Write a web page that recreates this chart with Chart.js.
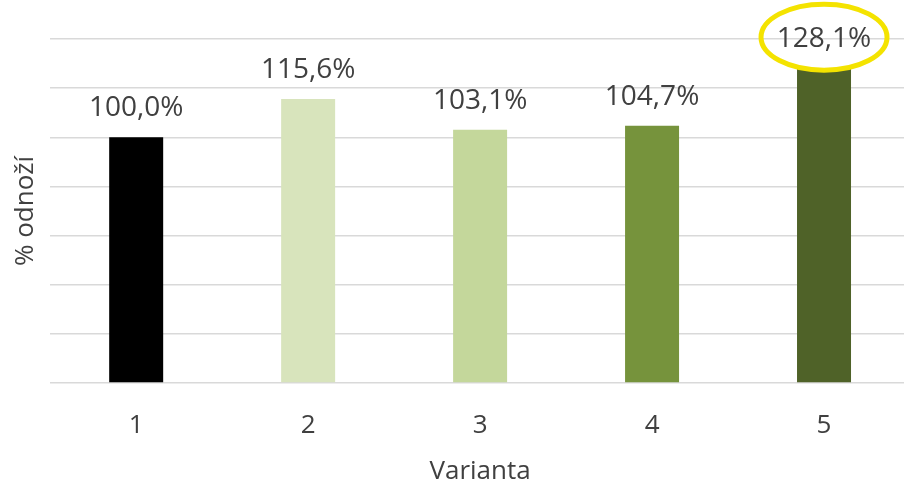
<!DOCTYPE html>
<html>
<head>
<meta charset="utf-8">
<script src="https://cdn.jsdelivr.net/npm/chart.js@4.4.1/dist/chart.umd.min.js"></script>
<style>
  html, body { margin: 0; padding: 0; background: #ffffff; overflow: hidden; }
  #wrap { position: relative; width: 911px; height: 485px; }
</style>
</head>
<body>
<div id="wrap"><canvas id="chart"></canvas></div>
<script>
// Varianty a relativní počet odnoží (v %)
const categories = ['1', '2', '3', '4', '5'];
const values = [100.0, 115.6, 103.1, 104.7, 128.1];
const barColors = ['#000000', '#d8e4bc', '#c4d79b', '#76933c', '#4f6228'];
const highlightIndex = 4;

const textColor = '#404040';
const fontFamily = '"Open Sans", "Noto Sans", sans-serif';

const fmt = v => v.toFixed(1).replace('.', ',') + '%';

// Popisky hodnot nad sloupci + zvýraznění nejvyšší varianty elipsou
const valueLabels = {
  id: 'valueLabels',
  afterDatasetsDraw(chart) {
    const ctx = chart.ctx;
    const meta = chart.getDatasetMeta(0);
    ctx.save();
    ctx.font = '28px ' + fontFamily;
    ctx.fillStyle = textColor;
    ctx.textAlign = 'center';
    ctx.textBaseline = 'alphabetic';
    meta.data.forEach((bar, i) => {
      const cy = bar.y - 31;
      ctx.fillText(fmt(values[i]), bar.x, cy + 10);
      if (i === highlightIndex) {
        ctx.beginPath();
        ctx.ellipse(bar.x, cy, 63, 33, 0, 0, Math.PI * 2);
        ctx.lineWidth = 5;
        ctx.strokeStyle = '#f4e300';
        ctx.stroke();
      }
    });
    ctx.restore();
  }
};

new Chart(document.getElementById('chart'), {
  type: 'bar',
  data: {
    labels: categories,
    datasets: [{
      data: values,
      backgroundColor: barColors,
      borderWidth: 0,
      categoryPercentage: 1.0,
      barPercentage: 0.314
    }]
  },
  options: {
    responsive: true,
    maintainAspectRatio: false,
    animation: false,
    layout: { padding: { top: 39, right: 1, bottom: 0, left: 0 } },
    plugins: {
      legend: { display: false },
      tooltip: { enabled: false }
    },
    scales: {
      x: {
        grid: { display: false, drawTicks: true, tickLength: 27 },
        border: { display: false },
        ticks: {
          color: textColor,
          font: { family: fontFamily, size: 26 },
          padding: 0
        },
        title: {
          display: true,
          text: 'Varianta',
          color: textColor,
          font: { family: fontFamily, size: 26 },
          padding: { top: 14.6, bottom: -2 }
        }
      },
      y: {
        min: 0,
        max: 140,
        ticks: { display: false, stepSize: 20 },
        grid: { color: '#d9d9d9', lineWidth: 1.5, drawTicks: false },
        border: { display: false },
        title: {
          display: true,
          text: '% odnoží',
          color: textColor,
          font: { family: fontFamily, size: 26 },
          padding: { top: 10, bottom: 9 }
        }
      }
    }
  },
  plugins: [valueLabels]
});
</script>
</body>
</html>
